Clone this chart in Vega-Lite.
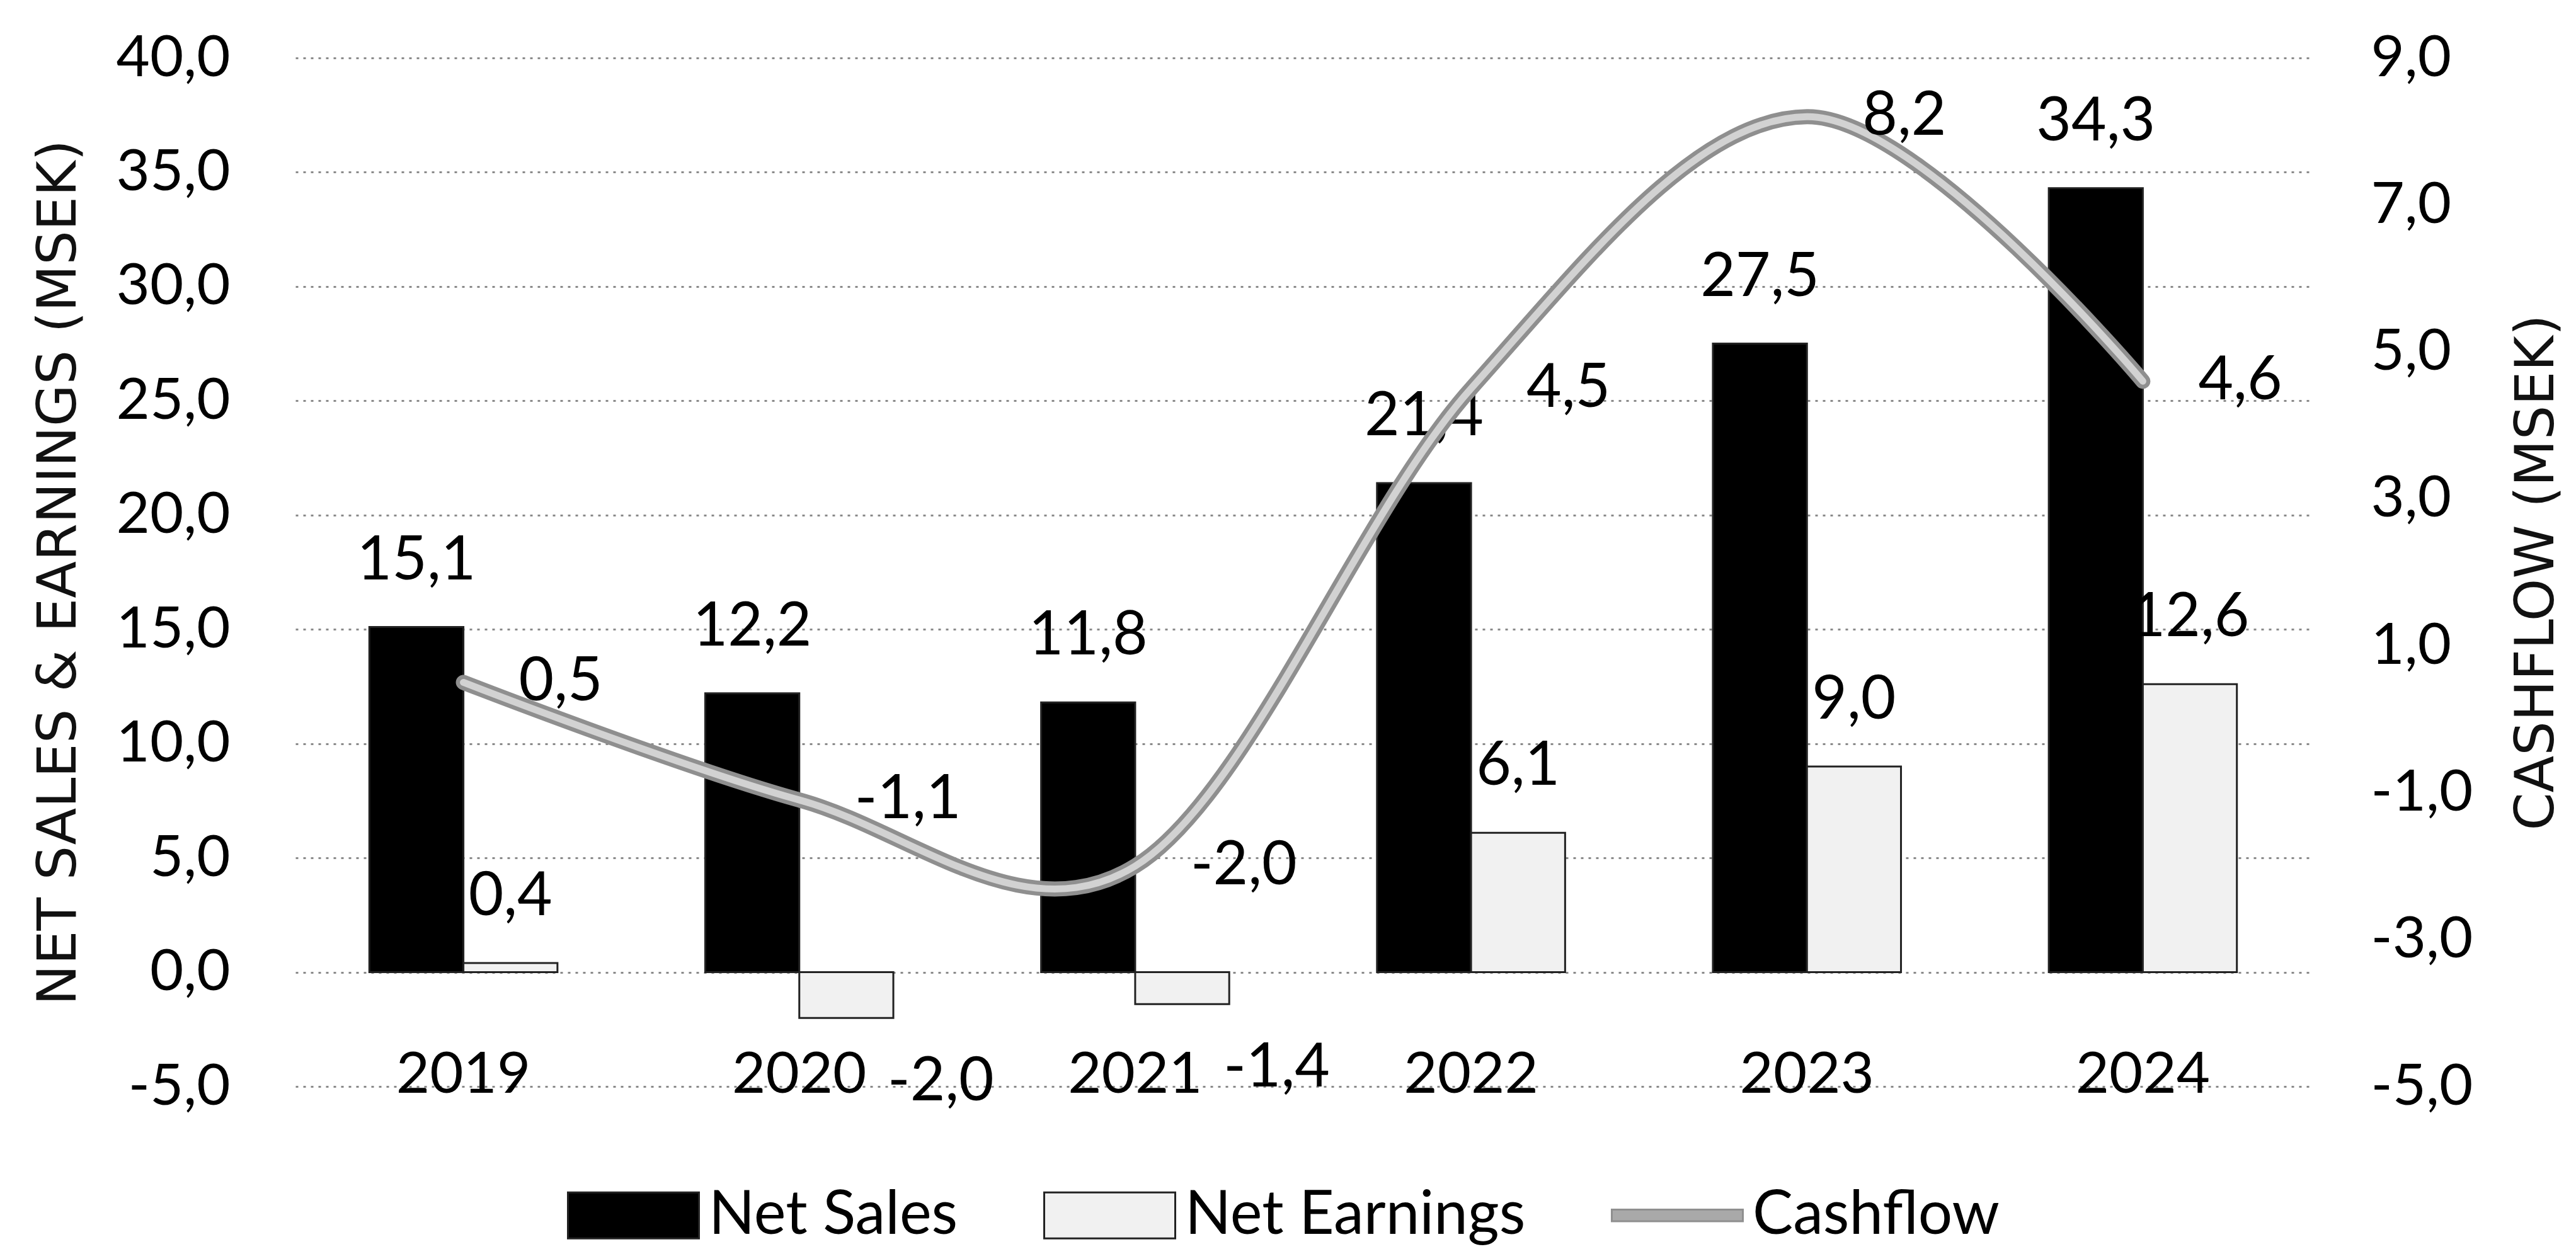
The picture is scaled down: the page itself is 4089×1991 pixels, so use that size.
{
  "$schema": "https://vega.github.io/schema/vega-lite/v6.json",
  "width": 3199,
  "height": 1633,
  "autosize": {"type": "none"},
  "padding": {"left": 469, "top": 92, "right": 421, "bottom": 266},
  "background": "white",
  "config": {
    "locale": {"number": {"decimal": ",", "thousands": " ", "grouping": [3], "currency": ["", " kr"], "minus": "-"}},
    "view": {"stroke": null},
    "font": "Lato",
    "axis": {
      "labelFont": "Lato", "labelFontSize": 92, "labelColor": "#000000", "labelLimit": 1000,
      "titleFont": "DejaVu Sans", "titleFontSize": 86, "titleFontWeight": "normal", "titleColor": "#111111",
      "domain": false, "ticks": false, "tickSize": 0
    },
    "text": {"font": "Lato", "fontSize": 96, "color": "#000000"}
  },
  "datasets": {
    "bars": [
      {"year": "2019", "series": "Net Sales", "value": 15.1},
      {"year": "2019", "series": "Net Earnings", "value": 0.4},
      {"year": "2020", "series": "Net Sales", "value": 12.2},
      {"year": "2020", "series": "Net Earnings", "value": -2.0},
      {"year": "2021", "series": "Net Sales", "value": 11.8},
      {"year": "2021", "series": "Net Earnings", "value": -1.4},
      {"year": "2022", "series": "Net Sales", "value": 21.4},
      {"year": "2022", "series": "Net Earnings", "value": 6.1},
      {"year": "2023", "series": "Net Sales", "value": 27.5},
      {"year": "2023", "series": "Net Earnings", "value": 9.0},
      {"year": "2024", "series": "Net Sales", "value": 34.3},
      {"year": "2024", "series": "Net Earnings", "value": 12.6}
    ],
    "cash": [
      {"year": "2019", "value": 0.5},
      {"year": "2020", "value": -1.1},
      {"year": "2021", "value": -2.0},
      {"year": "2022", "value": 4.5},
      {"year": "2023", "value": 8.2},
      {"year": "2024", "value": 4.6}
    ]
  },
  "layer": [
    {
      "data": {"name": "bars"},
      "layer": [
        {
          "mark": {"type": "bar", "stroke": "#222222", "strokeWidth": 3},
          "encoding": {
            "x": {"field": "year", "type": "nominal", "title": null,
              "scale": {"paddingInner": 0.44, "paddingOuter": 0.22},
              "axis": {"labelAngle": 0, "labelBaseline": "alphabetic", "labelPadding": 9, "grid": false}},
            "xOffset": {"field": "series", "type": "nominal", "scale": {"domain": ["Net Sales", "Net Earnings"], "paddingInner": 0, "paddingOuter": 0}},
            "y": {"field": "value", "type": "quantitative", "title": "NET SALES & EARNINGS (MSEK)",
              "scale": {"domain": [-5, 40], "nice": false, "zero": false},
              "axis": {"values": [-5, 0, 5, 10, 15, 20, 25, 30, 35, 40], "format": ".1f", "grid": true,
                "gridColor": "#8a8a8a", "gridDash": [4, 8], "gridWidth": 3, "labelPadding": 104, "titlePadding": 132}},
            "color": {"field": "series", "type": "nominal",
              "scale": {"domain": ["Net Sales", "Net Earnings", "Cashflow"], "range": ["#000000", "#f1f1f1", "#a9a9a9"]},
              "legend": {
                "orient": "none", "legendX": 431, "legendY": 1732, "direction": "horizontal", "title": null,
                "symbolType": "M-1,-0.35H1V0.35H-1Z", "symbolSize": 43264,
                "symbolStrokeColor": "#222222", "symbolStrokeWidth": 3,
                "labelFont": "Lato", "labelFontSize": 96, "labelColor": "#000000", "labelOffset": 14,
                "columnPadding": 130, "labelLimit": 1000,
                "encode": {"symbols": {"update": {
                  "shape": {"signal": "datum.value === 'Cashflow' ? 'M-1,-0.09H1V0.09H-1Z' : 'M-1,-0.35H1V0.35H-1Z'"},
                  "stroke": {"signal": "datum.value === 'Cashflow' ? '#8f8f8f' : '#222222'"}
                }}}
              }}
          }
        },
        {
          "transform": [{"filter": "datum.value >= 0"}],
          "mark": {"type": "text", "baseline": "middle", "align": "center", "dy": -105},
          "encoding": {
            "x": {"field": "year", "type": "nominal", "title": null},
            "xOffset": {"field": "series", "type": "nominal"},
            "y": {"field": "value", "type": "quantitative"},
            "text": {"field": "value", "type": "quantitative", "format": ".1f"}
          }
        },
        {
          "transform": [{"filter": "datum.value < 0"}],
          "mark": {"type": "text", "baseline": "middle", "align": "center", "dy": 102, "dx": 150},
          "encoding": {
            "x": {"field": "year", "type": "nominal", "title": null},
            "xOffset": {"field": "series", "type": "nominal"},
            "y": {"field": "value", "type": "quantitative"},
            "text": {"field": "value", "type": "quantitative", "format": ".1f"}
          }
        }
      ]
    },
    {
      "data": {"name": "cash"},
      "layer": [
        {
          "mark": {"type": "line", "interpolate": "cardinal", "tension": 0, "stroke": "#8f8f8f", "strokeWidth": 24, "strokeCap": "round"},
          "encoding": {
            "x": {"field": "year", "type": "nominal", "title": null},
            "y": {"field": "value", "type": "quantitative", "title": "CASHFLOW (MSEK)",
              "scale": {"domain": [-5, 9], "nice": false, "zero": false},
              "axis": {"orient": "right", "values": [-5, -3, -1, 1, 3, 5, 7, 9], "format": ".1f", "grid": false,
                "labelPadding": 95, "titlePadding": 202, "titleAngle": 270}}
          }
        },
        {
          "mark": {"type": "line", "interpolate": "cardinal", "tension": 0, "stroke": "#d2d2d2", "strokeWidth": 11, "strokeCap": "round"},
          "encoding": {
            "x": {"field": "year", "type": "nominal", "title": null},
            "y": {"field": "value", "type": "quantitative"}
          }
        },
        {
          "mark": {"type": "text", "baseline": "middle", "align": "left", "dx": 88},
          "encoding": {
            "x": {"field": "year", "type": "nominal", "title": null},
            "y": {"field": "value", "type": "quantitative"},
            "text": {"field": "value", "type": "quantitative", "format": ".1f"}
          }
        }
      ]
    }
  ],
  "resolve": {"scale": {"y": "independent"}}
}
